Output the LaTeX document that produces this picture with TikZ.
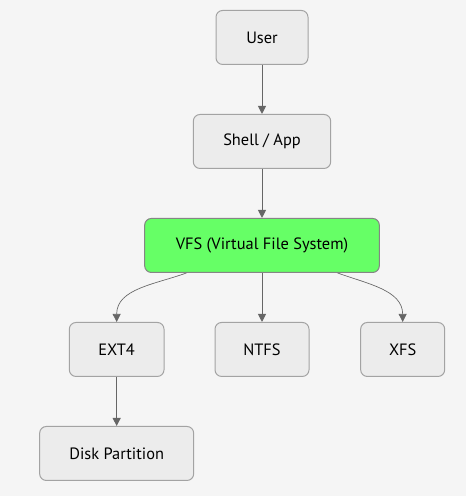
\documentclass[tikz,border=0pt]{standalone}
\usepackage{fontspec}
\setmainfont{PT Sans}
\usetikzlibrary{shapes,arrows,arrows.meta,positioning}
\definecolor{bgcol}{HTML}{F5F5F5}
\definecolor{boxfill}{HTML}{ECECEC}
\definecolor{boxline}{HTML}{A3A3A3}
\definecolor{vfsfill}{HTML}{66FF66}
\definecolor{edgecol}{HTML}{666666}
\tikzstyle{box} = [rectangle, draw=boxline, fill=boxfill, text centered, rounded corners=5pt, minimum height=40.5pt, line width=0.75pt, font=\fontsize{12.3}{14}\selectfont]
\tikzstyle{vfsbox} = [box, fill=vfsfill, draw=edgecol!80]
\tikzstyle{line} = [draw=edgecol, line width=0.75pt, -{Triangle[length=6pt,width=6pt]}]

\begin{document}
\begin{tikzpicture}
    \fill [bgcol] (0,0) rectangle (349.5pt,-372pt);
    \node [box, minimum width=69pt] (user) at (196.5pt,-28.1pt) {User};
    \node [box, minimum width=103pt, below=36.75pt of user] (shell) {Shell / App};
    \node [vfsbox, minimum width=176pt, below=36.75pt of shell] (vfs) {VFS (Virtual File System)};
    \node [box, minimum width=70.5pt, below=36.75pt of vfs] (ntfs) {NTFS};
    \node [box, minimum width=71pt, left=37.5pt of ntfs] (ext4) {EXT4};
    \node [box, minimum width=63pt, right=38pt of ntfs] (xfs) {XFS};
    \node [box, minimum width=115.5pt, below=36.75pt of ext4] (disk) {Disk Partition};
    \path [line] (user) -- (shell);
    \path [line] (shell) -- (vfs);
    \path [line, line width=0.5pt] (vfs.200) to[out=200, in=90] (ext4);
    \path [line] (vfs) -- (ntfs);
    \path [line, line width=0.5pt] (vfs.-20) to[out=-20, in=90] (xfs);
    \path [line] (ext4) -- (disk);
\end{tikzpicture}
\end{document}
